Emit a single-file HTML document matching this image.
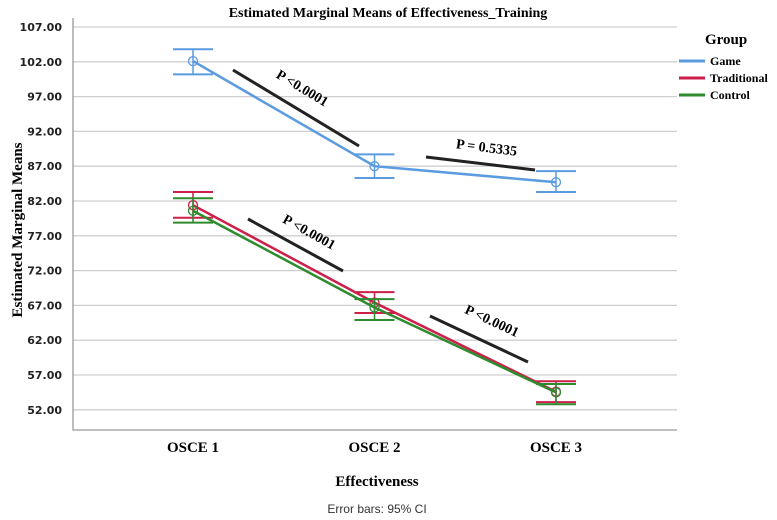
<!DOCTYPE html>
<html><head><meta charset="utf-8"><style>
body{margin:0;background:#fff;}
svg{display:block;}
.s{font-family:"Liberation Serif",serif;font-weight:bold;}
</style></head><body>
<svg id="chart" width="777" height="520">
<text class="s" x="388" y="17" text-anchor="middle" font-size="14">Estimated Marginal Means of Effectiveness_Training</text>
<text class="s" transform="translate(22,230) rotate(-90)" text-anchor="middle" font-size="15">Estimated Marginal Means</text>
<text class="s" x="377" y="486" text-anchor="middle" font-size="15">Effectiveness</text>
<text x="377" y="513" text-anchor="middle" font-size="12" fill="#333" font-family="Liberation Sans, sans-serif">Error bars: 95% CI</text>
<g id="grid"></g><g id="axes"></g><g id="annot"></g><g id="series"></g><g id="legend"></g>
</svg>
<script>
const categories=["OSCE 1","OSCE 2","OSCE 3"];
const yTicks=[52,57,62,67,72,77,82,87,92,97,102,107];
const groups=["Game","Traditional","Control"];
const colors=["#5b9be0","#cc1f4a","#2e8b2e"];
const gameMean=[102.1,87.0,84.7];
const gameLo=[100.2,85.3,83.3];
const gameHi=[103.8,88.7,86.3];
const tradMean=[81.4,67.4,54.6];
const tradLo=[79.6,65.9,53.1];
const tradHi=[83.3,68.9,56.1];
const ctrlMean=[80.6,66.7,54.5];
const ctrlLo=[78.9,64.9,52.8];
const ctrlHi=[82.4,67.9,55.7];
const NS="http://www.w3.org/2000/svg";
const X0=73,X1=677,YB=430;
function xPos(i){return 193+i*181.5;}
function yPos(v){return 201-(v-82)*6.96;}
function mk(t,a,p){const e=document.createElementNS(NS,t);for(const k in a)e.setAttribute(k,a[k]);p.appendChild(e);return e;}
const grid=document.getElementById('grid'),axes=document.getElementById('axes');
yTicks.forEach(v=>{
 const l=mk('line',{x1:X0,x2:X1,y1:yPos(v),y2:yPos(v),stroke:'#cfcfcf','stroke-width':1.3},grid);
 
 
 const t=mk('text',{x:62,y:yPos(v)+4,'text-anchor':'end','font-size':11,'font-weight':'bold','font-family':'DejaVu Sans, sans-serif',fill:'#222'},axes);
 t.textContent=v.toFixed(2);
 
 
});
const ax=mk('polyline',{points:`${X0},18 ${X0},${YB} ${X1},${YB}`,fill:'none',stroke:'#999','stroke-width':1.3},axes);


categories.forEach((c,i)=>{
 const t=mk('text',{x:xPos(i),y:452,'text-anchor':'middle','font-size':15,class:'s'},axes);
 t.textContent=c;
 
 
});
const annot=document.getElementById('annot');
[[233,70,359,146,'P <0.0001',300,92,31],[426,157,535,170,'P = 0.5335',486,152,7],[248,219,343,271,'P <0.0001',307,236,29],[430,316,528,362,'P <0.0001',490,325,25]].forEach(a=>{
 const l=mk('line',{x1:a[0],y1:a[1],x2:a[2],y2:a[3],stroke:'#222','stroke-width':3},annot);
 
 
 const t=mk('text',{x:a[5],y:a[6],'text-anchor':'middle','font-size':14,class:'s',transform:`rotate(${a[7]} ${a[5]} ${a[6]})`},annot);
 t.textContent=a[4];
 
 
});
const ser=document.getElementById('series');
const data=[[gameMean,gameLo,gameHi],[tradMean,tradLo,tradHi],[ctrlMean,ctrlLo,ctrlHi]];
data.forEach((d,g)=>{
 const c=colors[g];
 d[0].forEach((m,i)=>{
  const x=xPos(i);
  const e=mk('g',{},ser);
  
  
  mk('line',{x1:x,x2:x,y1:yPos(d[2][i]),y2:yPos(d[1][i]),stroke:c,'stroke-width':1.5},e);
  mk('line',{x1:x-20,x2:x+20,y1:yPos(d[2][i]),y2:yPos(d[2][i]),stroke:c,'stroke-width':2},e);
  mk('line',{x1:x-20,x2:x+20,y1:yPos(d[1][i]),y2:yPos(d[1][i]),stroke:c,'stroke-width':2},e);
  const p=mk('circle',{cx:x,cy:yPos(m),r:4.5,fill:'none',stroke:c,'stroke-width':1.3},ser);
  
  
 });
 const pl=mk('polyline',{points:d[0].map((m,i)=>xPos(i)+','+yPos(m)).join(' '),fill:'none',stroke:c,'stroke-width':2.5},ser);
 
 
});
const lg=document.getElementById('legend');
const lt=mk('text',{x:705,y:44,'font-size':15,class:'s'},lg);
lt.textContent='Group';


groups.forEach((n,g)=>{
 const y=61+g*17;
 const e=mk('g',{},lg);
 
 
 mk('line',{x1:679,x2:705,y1:y,y2:y,stroke:colors[g],'stroke-width':3},e);
 const t=mk('text',{x:710,y:y+4,'font-size':12,class:'s'},e);
 t.textContent=n;
});
</script>
</body></html>
